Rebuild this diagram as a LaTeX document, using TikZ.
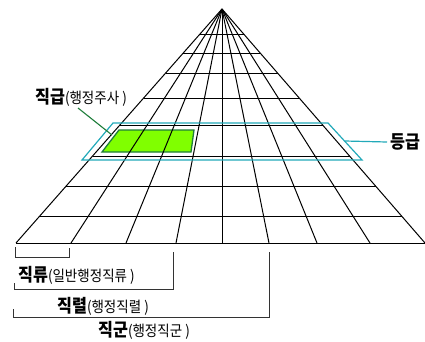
\documentclass[tikz,border=0pt]{standalone}
\usepackage{fontspec}
\newfontfamily\krmain{Noto Sans CJK KR}[FakeStretch=0.9]
\newfontfamily\krsub{Noto Sans CJK KR}[FakeStretch=0.9]
\usetikzlibrary{calc}
\definecolor{cyanline}{HTML}{22A9B9}
\definecolor{leafgreen}{HTML}{80FF00}
\definecolor{darkgreen}{HTML}{1E7D3A}
\newcommand{\subtxt}[1]{{\krsub\mdseries\fontsize{15}{15}\selectfont #1}}
\begin{document}
\begin{tikzpicture}[x=1pt,y=-1pt,
  gridline/.style={line width=1pt,black},
  bracket/.style={line width=0.9pt,black!80},
  mainlbl/.style={inner sep=0pt,anchor=west,font=\krmain\bfseries\fontsize{18}{18}\selectfont}]
\useasboundingbox (0,0) rectangle (425,341);
\coordinate (A) at (222,9);
\foreach \x [count=\i] in {16,71,126,176,222,269,317,370,425} {
  \coordinate (B\i) at (\x,243);
}
% green cells
\filldraw[fill=leafgreen,draw=darkgreen,line width=1.3pt]
  (119,130) -- (194,130) -- (191,152) -- (102,152) -- cycle;
% rows
\foreach \y in {34,53,73,98,125,156,186,216} {
  \draw[gridline] ($(A)!{(\y-9)/234}!(B1)$) -- ($(A)!{(\y-9)/234}!(B9)$);
}
\draw[gridline] (B1) -- (B9);
% columns
\foreach \i in {1,...,9} { \draw[gridline] (A) -- (B\i); }
% cyan band
\draw[cyanline,line width=1.2pt] (113,123) -- (328,123) -- (362,160) -- (82,160) -- cycle;
% labels
\node[mainlbl] (jg) at (35,97) {직급\subtxt{(행정주사 )}};
\node[mainlbl] (dg) at (390,142) {등급};
\node[mainlbl] (jr) at (18,275) {직류\subtxt{(일반행정직류 )}};
\node[mainlbl] (jl) at (57,306) {직렬\subtxt{(행정직렬 )}};
\node[mainlbl] (jk) at (98,330) {직군\subtxt{(행정직군 )}};
% leaders
\coordinate (gl1) at (78,108);
\coordinate (gl2) at (112,135);
\draw[darkgreen,line width=1.1pt] (gl1) -- (gl2);
\coordinate (cl1) at (345,141);
\draw[cyanline,line width=1.2pt] (cl1) -- (dg.west -| 387,0);
% brackets
\draw[bracket] (15,247) -- (15,257) -- (69,257) -- (69,248);
\draw[bracket] (14,283) -- (14,289) -- (173,289) -- (173,252);
\draw[bracket] (13,309) -- (13,317) -- (269,317) -- (269,252);
\end{tikzpicture}
\end{document}
